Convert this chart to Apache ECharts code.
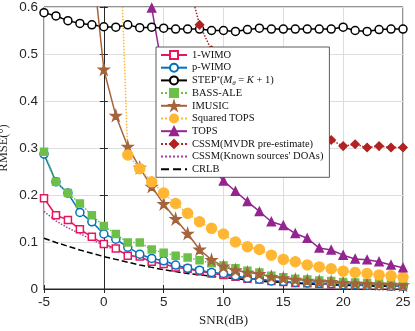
<!DOCTYPE html>
<html>
<head>
<meta charset="utf-8">
<script src="https://cdn.jsdelivr.net/npm/echarts@6/dist/echarts.min.js"></script>
<style>
  html, body { margin: 0; padding: 0; background: #fff; }
  #chart { width: 415px; height: 331px; }
</style>
</head>
<body>
<div id="chart"></div>
<script>
// SNR (dB)
var snr = [-5, -4, -3, -2, -1, 0, 1, 2, 3, 4, 5, 6, 7, 8, 9, 10, 11, 12, 13, 14, 15, 16, 17, 18, 19, 20, 21, 22, 23, 24, 25];

// RMSE values
var wimo1 = [0.193, 0.157, 0.147, 0.127, 0.111, 0.096, 0.086, 0.071, 0.069, 0.058, 0.053, 0.046, 0.043, 0.038, 0.033, 0.030, 0.026, 0.022, 0.020, 0.017, 0.015, 0.013, 0.012, 0.011, 0.010, 0.009, 0.008, 0.008, 0.007, 0.006, 0.006];
var wimoP = [0.287, 0.228, 0.204, 0.163, 0.143, 0.117, 0.106, 0.089, 0.074, 0.065, 0.060, 0.051, 0.044, 0.040, 0.035, 0.033, 0.028, 0.023, 0.021, 0.017, 0.016, 0.014, 0.013, 0.012, 0.011, 0.009, 0.009, 0.008, 0.007, 0.006, 0.006];
var step = [0.588, 0.581, 0.571, 0.565, 0.562, 0.558, 0.557, 0.562, 0.556, 0.557, 0.555, 0.553, 0.553, 0.553, 0.550, 0.550, 0.548, 0.552, 0.555, 0.553, 0.553, 0.553, 0.553, 0.553, 0.553, 0.557, 0.550, 0.548, 0.552, 0.553, 0.553];
var bass = [0.292, 0.228, 0.204, 0.182, 0.157, 0.134, 0.117, 0.099, 0.099, 0.084, 0.077, 0.071, 0.067, 0.061, 0.055, 0.050, 0.044, 0.039, 0.035, 0.028, 0.025, 0.022, 0.020, 0.018, 0.017, 0.015, 0.014, 0.013, 0.012, 0.011, 0.010];
var imusic = [1.50, 1.30, 1.10, 0.90, 0.71, 0.467, 0.369, 0.303, 0.258, 0.218, 0.181, 0.149, 0.118, 0.084, 0.062, 0.048, 0.040, 0.035, 0.032, 0.026, 0.023, 0.020, 0.018, 0.016, 0.015, 0.013, 0.012, 0.011, 0.010, 0.009, 0.008];
var sqTops = [3.0, 2.6, 2.2, 1.8, 1.4, 1.2, 1.0, 0.285, 0.256, 0.228, 0.204, 0.182, 0.161, 0.143, 0.129, 0.117, 0.100, 0.090, 0.084, 0.072, 0.063, 0.058, 0.051, 0.047, 0.043, 0.038, 0.035, 0.033, 0.030, 0.028, 0.025];
var tops = [3.0, 2.6, 2.2, 1.8, 1.5, 1.3, 1.1, 0.9, 0.75, 0.598, 0.452, 0.38, 0.33, 0.29, 0.26, 0.230, 0.208, 0.186, 0.165, 0.143, 0.135, 0.118, 0.108, 0.087, 0.083, 0.072, 0.064, 0.062, 0.058, 0.051, 0.045];
var cssmMvdr = [2.4, 2.2, 2.0, 1.8, 1.6, 1.45, 1.3, 1.15, 1.0, 0.9, 0.82, 0.74, 0.66, 0.562, 0.508, 0.47, 0.44, 0.41, 0.39, 0.37, 0.355, 0.34, 0.33, 0.32, 0.317, 0.304, 0.308, 0.301, 0.304, 0.301, 0.301];
var cssmKnown = [0.165, 0.145, 0.130, 0.118, 0.105, 0.093, 0.083, 0.074, 0.066, 0.059, 0.053, 0.048, 0.043, 0.038, 0.034, 0.030, 0.026, 0.023, 0.020, 0.018, 0.016, 0.014, 0.013, 0.011, 0.010, 0.009, 0.008, 0.007, 0.007, 0.006, 0.006];
var crlb = [0.108, 0.099, 0.091, 0.083, 0.076, 0.069, 0.063, 0.057, 0.051, 0.046, 0.041, 0.037, 0.033, 0.030, 0.027, 0.024, 0.022, 0.019, 0.017, 0.015, 0.014, 0.012, 0.011, 0.010, 0.009, 0.008, 0.007, 0.0065, 0.006, 0.0055, 0.005];

var xTicks = [-5, 0, 5, 10, 15, 20, 25];
var yTicks = [0, 0.1, 0.2, 0.3, 0.4, 0.5, 0.6];

var starPath = 'path://M50,0 L61,35 L98,35 L68,57 L79,91 L50,70 L21,91 L32,57 L2,35 L39,35 Z';

function pairs(vals) {
  return snr.map(function (s, i) { return [s, vals[i]]; });
}

function mkSeries(name, vals, color, lineType, symbol, size, filled) {
  var noMark = symbol === 'none';
  return {
    name: name,
    type: 'line',
    data: pairs(vals),
    showSymbol: !noMark,
    symbol: noMark ? 'circle' : symbol,
    symbolSize: size,
    lineStyle: { color: color, width: 1.5, type: lineType },
    itemStyle: {
      color: filled ? color : '#fff',
      borderColor: color,
      borderWidth: 1.5,
      opacity: noMark ? 0 : 1
    },
    emphasis: { disabled: true },
    animation: false
  };
}

var serif = 'Liberation Serif';
var sans = 'Liberation Sans';

var names = ['1-WIMO', 'p-WIMO', 'STEP', 'BASS-ALE', 'IMUSIC', 'Squared TOPS', 'TOPS',
  'CSSM(MVDR pre-estimate)', 'CSSM(Known sources\' DOAs)', 'CRLB'];

var chart = echarts.init(document.getElementById('chart'));
chart.setOption({
  backgroundColor: '#fff',
  animation: false,
  grid: {
    left: 44, right: 12, top: 7, bottom: 42,
    outerBoundsMode: 'none',
    show: true, borderColor: '#262626', borderWidth: 1
  },
  legend: {
    orient: 'vertical',
    left: 156, top: 47,
    itemWidth: 26, itemHeight: 10, itemGap: 0.7,
    padding: [2, 6, 2, 4],
    backgroundColor: '#fff',
    borderColor: '#333', borderWidth: 0.8, borderRadius: 0,
    data: names.map(function (n, i) {
      return i >= 8 ? { name: n, itemStyle: { opacity: 0 } } : { name: n };
    }),
    textStyle: {
      fontFamily: serif, fontSize: 10.5, color: '#111', lineHeight: 12,
      rich: {
        sup: { fontFamily: serif, fontSize: 7, lineHeight: 12, verticalAlign: 'top', color: '#111' },
        it: { fontFamily: serif, fontSize: 10.5, lineHeight: 12, fontStyle: 'italic', color: '#111' },
        sub: { fontFamily: serif, fontSize: 7, lineHeight: 12, fontStyle: 'italic', verticalAlign: 'bottom', color: '#111' }
      }
    },
    formatter: function (name) {
      if (name === 'STEP') return 'STEP{sup|*}({it|M}{sub|θ} = {it|K} + 1)';
      return name;
    }
  },
  xAxis: [{
    type: 'value', min: -5, max: 25, interval: 5,
    name: 'SNR(dB)', nameLocation: 'middle', nameGap: 25, nameMoveOverlap: false,
    nameTextStyle: { fontFamily: serif, fontSize: 13, color: '#262626' },
    axisLine: { lineStyle: { color: '#262626' } },
    axisTick: { inside: true, length: 4, lineStyle: { color: '#262626' } },
    axisLabel: { fontFamily: sans, fontSize: 13.5, color: '#262626', margin: 6,
      formatter: function (v) { return xTicks.indexOf(v) >= 0 ? String(v) : ''; } },
    splitLine: { show: true, lineStyle: { color: '#dedede', width: 1 } }
  }, {
    type: 'value', min: -5, max: 25, interval: 5, position: 'top',
    axisLine: { show: true, lineStyle: { color: '#262626' } },
    axisTick: { show: true, inside: true, length: 4, lineStyle: { color: '#262626' } },
    axisLabel: { show: false }, splitLine: { show: false }
  }],
  yAxis: [{
    type: 'value', min: 0, max: 0.6, interval: 0.1,
    name: 'RMSE(°)', nameLocation: 'middle', nameGap: 34, nameRotate: 90, nameMoveOverlap: false,
    nameTextStyle: { fontFamily: serif, fontSize: 12.5, color: '#262626' },
    axisLine: { show: true, lineStyle: { color: '#262626' } },
    axisTick: { show: true, inside: true, length: 4, lineStyle: { color: '#262626' } },
    axisLabel: { fontFamily: sans, fontSize: 13.5, color: '#262626', margin: 6,
      formatter: function (v) {
        var r = Math.round(v * 10) / 10;
        return yTicks.indexOf(r) >= 0 ? String(r) : '';
      } },
    splitLine: { show: true, lineStyle: { color: '#dedede', width: 1 } }
  }, {
    type: 'value', min: 0, max: 0.6, interval: 0.1, position: 'right',
    axisLine: { show: true, lineStyle: { color: '#262626' } },
    axisTick: { show: true, inside: true, length: 4, lineStyle: { color: '#262626' } },
    axisLabel: { show: false }, splitLine: { show: false }
  }],
  series: [
    mkSeries(names[0], wimo1, '#e8175d', 'solid', 'rect', 7, false),
    mkSeries(names[1], wimoP, '#0072bd', 'solid', 'circle', 8, false),
    mkSeries(names[2], step, '#000000', 'solid', 'circle', 8, false),
    mkSeries(names[3], bass, '#6cc04a', 'dotted', 'rect', 7, true),
    mkSeries(names[4], imusic, '#a5643c', 'solid', starPath, 10, true),
    mkSeries(names[5], sqTops, '#ffb733', 'dotted', 'circle', 10, true),
    mkSeries(names[6], tops, '#94248f', 'solid', 'triangle', 8, true),
    mkSeries(names[7], cssmMvdr, '#b22222', 'dotted', 'diamond', 8, true),
    mkSeries(names[8], cssmKnown, '#a040a0', 'dotted', 'none', 0, true),
    mkSeries(names[9], crlb, '#000000', 'dashed', 'none', 0, true)
  ]
});
</script>
</body>
</html>
